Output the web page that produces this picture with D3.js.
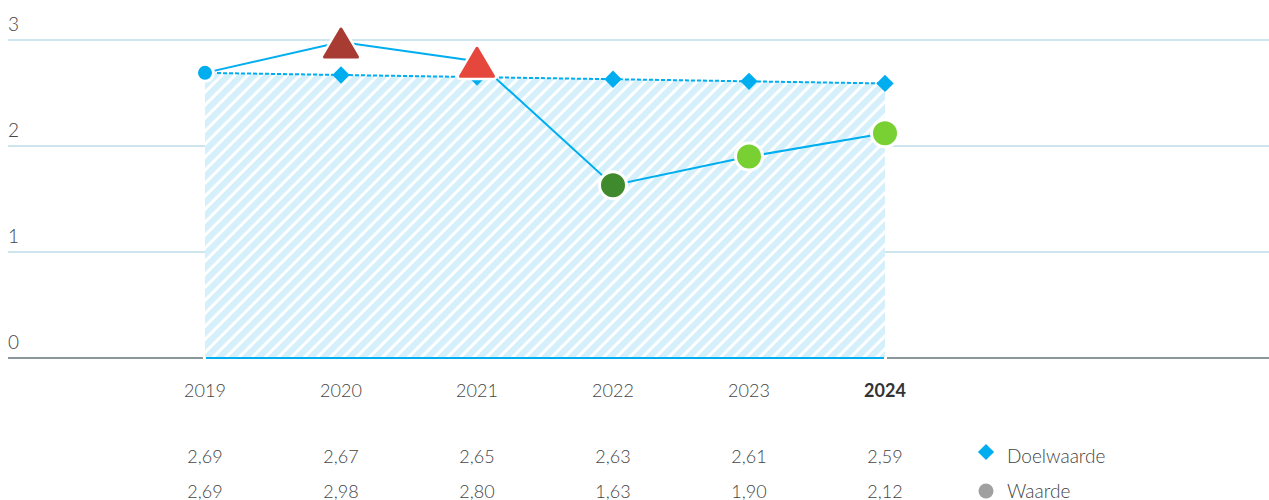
<!DOCTYPE html>
<html>
<head>
<meta charset="utf-8">
<script src="https://cdn.jsdelivr.net/npm/d3@7"></script>
<style>
  body { margin: 0; background: #fff; }
  svg { display: block; font-family: "Source Sans Pro", Lato, "Open Sans", sans-serif; }
</style>
</head>
<body>
<script>
const years = ["2019", "2020", "2021", "2022", "2023", "2024"];
const doelwaarde = [2.69, 2.67, 2.65, 2.63, 2.61, 2.59];
const waarde = [2.69, 2.98, 2.80, 1.63, 1.90, 2.12];
const waardeShape = ["circle", "triangle", "triangle", "circle", "circle", "circle"];
const waardeColor = ["#00aeef", "#a83b32", "#e5473d", "#3e8a2c", "#78d032", "#78d032"];
const yTicks = [0, 1, 2, 3];
const seriesNames = ["Doelwaarde", "Waarde"];

const width = 1269, height = 500;
const fmt = v => v.toFixed(2).replace(".", ",");

const x = d3.scalePoint().domain(years).range([205, 885]);
const y = d3.scaleLinear().domain([0, 3]).range([358, 40]);

const svg = d3.select("body").append("svg")
    .attr("width", width)
    .attr("height", height);

const defs = svg.append("defs");
const pat = defs.append("pattern")
    .attr("id", "hatch")
    .attr("patternUnits", "userSpaceOnUse")
    .attr("width", 9.2)
    .attr("height", 9.2)
    .attr("patternTransform", "rotate(45)");
pat.append("rect").attr("width", 9.2).attr("height", 9.2).attr("fill", "#fff");
pat.append("rect").attr("width", 6.2).attr("height", 9.2).attr("fill", "#d5f0fb");

// grid
svg.append("g").selectAll("line")
    .data(yTicks.filter(d => d > 0))
    .enter().append("line")
    .attr("x1", 8).attr("x2", width)
    .attr("y1", d => y(d)).attr("y2", d => y(d))
    .attr("stroke", "#bcdde6")
    .attr("stroke-width", 1.5);

svg.append("g").selectAll("text")
    .data(yTicks)
    .enter().append("text")
    .attr("x", 8)
    .attr("y", d => y(d) - 9)
    .attr("font-size", 19)
    .attr("font-weight", 300)
    .attr("fill", "#444")
    .text(d => d);

// hatched area under doelwaarde
const area = d3.area()
    .x((d, i) => x(years[i]))
    .y0(y(0))
    .y1(d => y(d));
svg.append("path")
    .datum(doelwaarde)
    .attr("d", area)
    .attr("fill", "url(#hatch)");

// baseline
svg.append("line")
    .attr("x1", 8).attr("x2", width)
    .attr("y1", y(0)).attr("y2", y(0))
    .attr("stroke", "#8a979b")
    .attr("stroke-width", 2);
svg.append("line")
    .attr("x1", x(years[0]) - 2).attr("x2", x(years[5]) + 2)
    .attr("y1", y(0)).attr("y2", y(0))
    .attr("stroke", "#fff")
    .attr("stroke-width", 2);
svg.append("line")
    .attr("x1", x(years[0]) + 1).attr("x2", x(years[5]) - 1)
    .attr("y1", y(0)).attr("y2", y(0))
    .attr("stroke", "#00aeef")
    .attr("stroke-width", 2);

const line = d3.line().x((d, i) => x(years[i])).y(d => y(d));

// doelwaarde dashed line
svg.append("path")
    .datum(doelwaarde)
    .attr("d", line)
    .attr("fill", "none")
    .attr("stroke", "#00aeef")
    .attr("stroke-width", 2)
    .attr("stroke-dasharray", "4,2");

svg.append("g").selectAll("path")
    .data(doelwaarde.slice(1))
    .enter().append("path")
    .attr("d", d3.symbol().type(d3.symbolSquare).size(150)())
    .attr("transform", (d, i) => `translate(${x(years[i + 1])},${y(d)}) rotate(45)`)
    .attr("fill", "#00aeef");

// waarde line
svg.append("path")
    .datum(waarde)
    .attr("d", line)
    .attr("fill", "none")
    .attr("stroke", "#00aeef")
    .attr("stroke-width", 2);

const marks = svg.append("g").selectAll("g")
    .data(waarde)
    .enter().append("g")
    .attr("transform", (d, i) => `translate(${x(years[i])},${y(d)})`);

marks.filter((d, i) => waardeShape[i] === "circle")
    .append("circle")
    .attr("r", (d, i) => waarde.indexOf(d) === 0 ? 8.5 : 13.5)
    .attr("fill", d => waardeColor[waarde.indexOf(d)])
    .attr("stroke", "#fff")
    .attr("stroke-width", 3);

const tri = "M0,-13 L16.5,15 L-16.5,15 Z";
const triMarks = marks.filter((d, i) => waardeShape[i] === "triangle");
triMarks.append("path")
    .attr("d", tri)
    .attr("fill", "#fff")
    .attr("stroke", "#fff")
    .attr("stroke-width", 8)
    .attr("stroke-linejoin", "round");
triMarks.append("path")
    .attr("d", tri)
    .attr("fill", d => waardeColor[waarde.indexOf(d)])
    .attr("stroke", d => waardeColor[waarde.indexOf(d)])
    .attr("stroke-width", 3)
    .attr("stroke-linejoin", "round");

// x labels
svg.append("g").selectAll("text")
    .data(years)
    .enter().append("text")
    .attr("x", d => x(d))
    .attr("y", 397)
    .attr("text-anchor", "middle")
    .attr("font-size", 18)
    .attr("font-weight", (d, i) => i === years.length - 1 ? 700 : 300)
    .attr("fill", (d, i) => i === years.length - 1 ? "#333" : "#444")
    .text(d => d);

// table rows
[doelwaarde, waarde].forEach((row, r) => {
    svg.append("g").selectAll("text")
        .data(row)
        .enter().append("text")
        .attr("x", (d, i) => x(years[i]))
        .attr("y", 463 + r * 35)
        .attr("text-anchor", "middle")
        .attr("font-size", 18)
        .attr("font-weight", 300)
        .attr("fill", "#444")
        .text(d => fmt(d));
});

// legend
const legend = svg.append("g").attr("transform", "translate(986,0)");
legend.append("path")
    .attr("d", d3.symbol().type(d3.symbolSquare).size(130)())
    .attr("transform", "translate(0,452) rotate(45)")
    .attr("fill", "#00aeef");
legend.append("circle")
    .attr("cy", 491)
    .attr("r", 7.5)
    .attr("fill", "#a0a0a0");
legend.selectAll("text")
    .data(seriesNames)
    .enter().append("text")
    .attr("x", 21)
    .attr("y", (d, i) => 463 + i * 35)
    .attr("font-size", 19)
    .attr("font-weight", 300)
    .attr("fill", "#444")
    .text(d => d);
</script>
</body>
</html>
